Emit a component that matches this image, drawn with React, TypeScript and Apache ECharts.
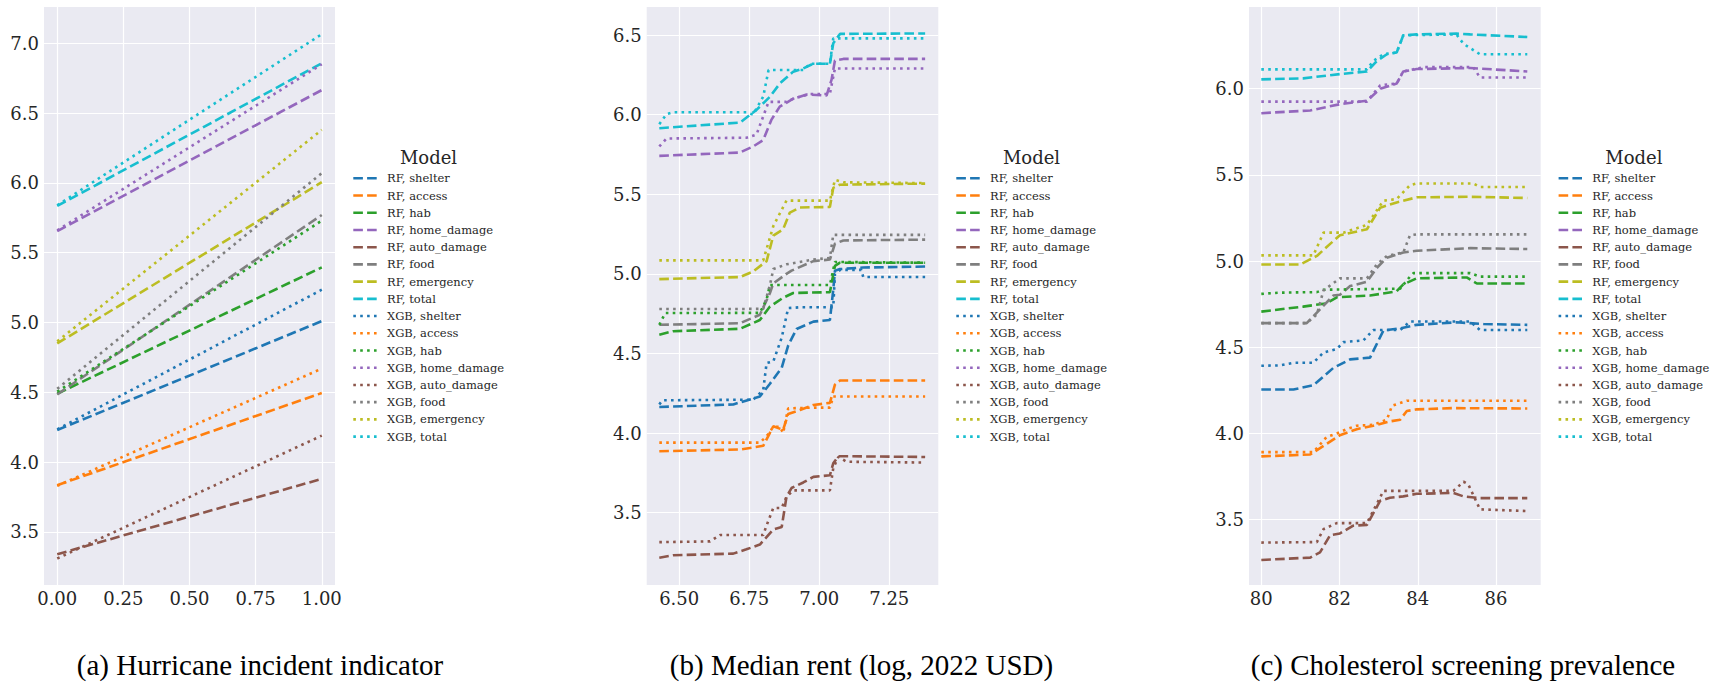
import React, { useEffect, useRef } from 'react';
import * as echarts from 'echarts';

// ---------- labels ----------
const groups = ['shelter', 'access', 'hab', 'home_damage', 'auto_damage', 'food', 'emergency', 'total'];
const models = ['RF', 'XGB'];
const groupColors = ['#1f77b4', '#ff7f0e', '#2ca02c', '#9467bd', '#8c564b', '#7f7f7f', '#bcbd22', '#17becf'];
const panelTitles = ['(a) Hurricane incident indicator', '(b) Median rent (log, 2022 USD)', '(c) Cholesterol screening prevalence'];
const legendTitle = 'Model';

// ---------- tick labels ----------
const hurricaneXTicks = [0, 0.25, 0.5, 0.75, 1.0];
const hurricaneYTicks = [3.5, 4.0, 4.5, 5.0, 5.5, 6.0, 6.5, 7.0];
const rentXTicks = [6.5, 6.75, 7.0, 7.25];
const rentYTicks = [3.5, 4.0, 4.5, 5.0, 5.5, 6.0, 6.5];
const cholXTicks = [80, 82, 84, 86];
const cholYTicks = [3.5, 4.0, 4.5, 5.0, 5.5, 6.0];

// ---------- (a) Hurricane incident indicator ----------
const hurricaneX = [0, 1];
const hurRfShelter = [4.23, 5.01];
const hurRfAccess = [3.835, 4.495];
const hurRfHab = [4.49, 5.395];
const hurRfHome = [5.655, 6.665];
const hurRfAuto = [3.34, 3.88];
const hurRfFood = [4.485, 5.77];
const hurRfEmergency = [4.85, 6.005];
const hurRfTotal = [5.835, 6.857];
const hurXgbShelter = [4.235, 5.235];
const hurXgbAccess = [3.83, 4.67];
const hurXgbHab = [4.505, 5.73];
const hurXgbHome = [5.66, 6.85];
const hurXgbAuto = [3.31, 4.19];
const hurXgbFood = [4.525, 6.07];
const hurXgbEmergency = [4.865, 6.38];
const hurXgbTotal = [5.84, 7.065];

// ---------- (b) Median rent (log) : [x, y] ----------
const rentRfShelter = [[6.429, 4.164], [6.693, 4.18], [6.788, 4.23], [6.824, 4.31], [6.866, 4.41], [6.889, 4.55], [6.919, 4.654], [6.979, 4.7], [7.038, 4.71], [7.05, 4.9], [7.056, 5.02], [7.074, 5.03], [7.157, 5.04], [7.378, 5.046]];
const rentRfAccess = [[6.429, 3.886], [6.717, 3.897], [6.8, 3.92], [6.836, 4.043], [6.871, 4.02], [6.889, 4.12], [6.931, 4.145], [6.979, 4.176], [7.038, 4.19], [7.056, 4.304], [7.074, 4.33], [7.378, 4.33]];
const rentRfHab = [[6.429, 4.618], [6.479, 4.64], [6.717, 4.655], [6.788, 4.71], [6.824, 4.795], [6.871, 4.85], [6.907, 4.88], [7.038, 4.885], [7.056, 5.05], [7.074, 5.07], [7.378, 5.07]];
const rentRfHome = [[6.429, 5.741], [6.717, 5.762], [6.764, 5.8], [6.8, 5.84], [6.829, 5.967], [6.859, 6.05], [6.907, 6.1], [6.955, 6.126], [7.026, 6.12], [7.044, 6.22], [7.056, 6.34], [7.086, 6.35], [7.378, 6.35]];
const rentRfAuto = [[6.429, 3.217], [6.479, 3.233], [6.693, 3.243], [6.74, 3.27], [6.788, 3.3], [6.836, 3.395], [6.866, 3.41], [6.883, 3.6], [6.901, 3.655], [6.943, 3.69], [6.979, 3.725], [7.038, 3.735], [7.05, 3.81], [7.068, 3.855], [7.378, 3.85]];
const rentRfFood = [[6.429, 4.68], [6.717, 4.69], [6.788, 4.743], [6.824, 4.88], [6.836, 4.94], [6.883, 5.0], [6.901, 5.02], [6.979, 5.08], [7.038, 5.09], [7.056, 5.19], [7.086, 5.21], [7.378, 5.215]];
const rentRfEmergency = [[6.429, 4.967], [6.717, 4.98], [6.764, 5.015], [6.812, 5.08], [6.836, 5.24], [6.871, 5.28], [6.895, 5.385], [6.931, 5.417], [7.038, 5.42], [7.05, 5.54], [7.074, 5.56], [7.378, 5.567]];
const rentRfTotal = [[6.429, 5.915], [6.717, 5.95], [6.776, 6.03], [6.824, 6.113], [6.86, 6.197], [6.907, 6.27], [6.943, 6.29], [6.979, 6.32], [7.038, 6.32], [7.05, 6.448], [7.074, 6.507], [7.378, 6.51]];
const rentXgbShelter = [[6.429, 4.18], [6.44, 4.206], [6.764, 4.21], [6.8, 4.27], [6.812, 4.44], [6.836, 4.45], [6.866, 4.6], [6.889, 4.785], [6.93, 4.79], [7.05, 4.79], [7.056, 5.0], [7.074, 5.025], [7.15, 5.025], [7.157, 4.98], [7.378, 4.98]];
const rentXgbAccess = [[6.429, 3.94], [6.788, 3.94], [6.812, 3.98], [6.836, 4.04], [6.86, 4.04], [6.871, 4.0], [6.889, 4.155], [6.979, 4.16], [7.038, 4.16], [7.05, 4.23], [7.378, 4.23]];
const rentXgbHab = [[6.429, 4.68], [6.45, 4.754], [6.788, 4.755], [6.812, 4.84], [6.824, 4.93], [7.038, 4.93], [7.056, 5.075], [7.378, 5.07]];
const rentXgbHome = [[6.429, 5.8], [6.455, 5.85], [6.74, 5.855], [6.776, 5.875], [6.819, 6.08], [6.883, 6.08], [6.907, 6.1], [6.967, 6.13], [7.038, 6.13], [7.056, 6.29], [7.378, 6.29]];
const rentXgbAuto = [[6.429, 3.315], [6.61, 3.32], [6.646, 3.36], [6.8, 3.36], [6.812, 3.42], [6.836, 3.53], [6.866, 3.53], [6.883, 3.6], [6.907, 3.64], [7.038, 3.64], [7.05, 3.78], [7.068, 3.85], [7.098, 3.82], [7.378, 3.815]];
const rentXgbFood = [[6.429, 4.779], [6.8, 4.78], [6.824, 4.93], [6.836, 5.03], [6.883, 5.06], [6.979, 5.09], [7.038, 5.1], [7.05, 5.245], [7.378, 5.245]];
const rentXgbEmergency = [[6.429, 5.085], [6.8, 5.085], [6.836, 5.3], [6.883, 5.46], [7.038, 5.46], [7.056, 5.59], [7.086, 5.575], [7.378, 5.57]];
const rentXgbTotal = [[6.429, 5.94], [6.455, 6.003], [6.48, 6.015], [6.74, 6.015], [6.764, 6.0], [6.8, 6.113], [6.819, 6.28], [6.943, 6.28], [6.967, 6.32], [7.038, 6.32], [7.05, 6.479], [7.378, 6.479]];

// ---------- (c) Cholesterol screening prevalence : [x, y] ----------
const cholRfShelter = [[80, 4.255], [80.82, 4.255], [81.33, 4.28], [81.84, 4.38], [82.27, 4.43], [82.78, 4.44], [83.12, 4.597], [83.55, 4.61], [83.97, 4.63], [84.99, 4.645], [85.68, 4.635], [86.8, 4.63]];
const cholRfAccess = [[80, 3.867], [81.25, 3.878], [81.67, 3.94], [82.01, 3.99], [82.44, 4.025], [82.86, 4.045], [83.29, 4.07], [83.55, 4.08], [83.72, 4.13], [83.97, 4.14], [84.9, 4.147], [86.8, 4.145]];
const cholRfHab = [[80, 4.707], [81.07, 4.736], [81.67, 4.755], [81.93, 4.79], [82.78, 4.8], [83.46, 4.825], [83.63, 4.865], [83.97, 4.9], [85.25, 4.905], [85.51, 4.87], [86.8, 4.87]];
const cholRfHome = [[80, 5.858], [81.25, 5.874], [82.01, 5.91], [82.7, 5.93], [83.04, 6.0], [83.46, 6.03], [83.63, 6.1], [83.97, 6.114], [85.34, 6.12], [86.8, 6.1]];
const cholRfAuto = [[80, 3.266], [81.25, 3.28], [81.5, 3.31], [81.76, 3.41], [82.01, 3.42], [82.35, 3.465], [82.7, 3.47], [83.04, 3.61], [83.29, 3.627], [83.63, 3.635], [83.97, 3.65], [84.91, 3.655], [85.17, 3.635], [85.59, 3.625], [86.8, 3.625]];
const cholRfFood = [[80, 4.64], [81.16, 4.64], [81.5, 4.72], [81.84, 4.8], [82.01, 4.805], [82.27, 4.855], [82.7, 4.88], [82.95, 4.96], [83.21, 5.02], [83.63, 5.05], [83.97, 5.06], [85.34, 5.075], [86.8, 5.07]];
const cholRfEmergency = [[80, 4.98], [80.99, 4.98], [81.42, 5.03], [81.76, 5.1], [82.01, 5.15], [82.7, 5.185], [83.04, 5.31], [83.46, 5.34], [83.97, 5.37], [85.34, 5.373], [86.8, 5.366]];
const cholRfTotal = [[80, 6.054], [81.07, 6.06], [82.01, 6.085], [82.7, 6.1], [82.95, 6.16], [83.21, 6.2], [83.46, 6.21], [83.63, 6.31], [83.97, 6.315], [84.99, 6.32], [85.34, 6.315], [86.8, 6.3]];
const cholXgbShelter = [[80, 4.393], [80.48, 4.395], [80.82, 4.41], [81.33, 4.41], [81.59, 4.47], [81.93, 4.49], [82.1, 4.53], [82.61, 4.54], [82.86, 4.6], [83.55, 4.6], [83.8, 4.65], [85.34, 4.65], [85.59, 4.6], [86.8, 4.6]];
const cholXgbAccess = [[80, 3.892], [81.33, 3.892], [81.67, 3.98], [81.93, 4.0], [82.18, 4.025], [82.44, 4.045], [82.86, 4.05], [83.21, 4.08], [83.34, 4.16], [83.72, 4.19], [86.8, 4.19]];
const cholXgbHab = [[80, 4.81], [80.48, 4.817], [81.42, 4.82], [81.59, 4.834], [83.55, 4.84], [83.8, 4.91], [83.89, 4.93], [85.34, 4.93], [85.59, 4.91], [86.8, 4.91]];
const cholXgbHome = [[80, 5.925], [82.7, 5.925], [83.04, 6.02], [83.46, 6.03], [83.63, 6.1], [84.14, 6.125], [85.42, 6.125], [85.59, 6.065], [86.8, 6.065]];
const cholXgbAuto = [[80, 3.367], [81.42, 3.37], [81.59, 3.445], [81.93, 3.48], [82.7, 3.48], [83.04, 3.63], [83.12, 3.667], [84.91, 3.667], [85.17, 3.72], [85.29, 3.705], [85.59, 3.56], [86.8, 3.55]];
const cholXgbFood = [[80, 4.64], [81.16, 4.64], [81.42, 4.69], [81.59, 4.83], [82.01, 4.9], [82.7, 4.9], [82.95, 4.98], [83.21, 5.03], [83.63, 5.05], [83.8, 5.15], [83.97, 5.155], [86.8, 5.155]];
const cholXgbEmergency = [[80, 5.033], [81.33, 5.033], [81.59, 5.165], [82.1, 5.165], [82.7, 5.21], [83.12, 5.35], [83.46, 5.36], [83.8, 5.44], [83.97, 5.45], [85.42, 5.45], [85.59, 5.43], [86.8, 5.43]];
const cholXgbTotal = [[80, 6.112], [82.7, 6.112], [82.86, 6.16], [83.12, 6.2], [83.46, 6.21], [83.63, 6.31], [84.99, 6.315], [85.17, 6.26], [85.59, 6.2], [86.8, 6.2]];

// ---------- assemble ----------
const hurricaneRf = [hurRfShelter, hurRfAccess, hurRfHab, hurRfHome, hurRfAuto, hurRfFood, hurRfEmergency, hurRfTotal];
const hurricaneXgb = [hurXgbShelter, hurXgbAccess, hurXgbHab, hurXgbHome, hurXgbAuto, hurXgbFood, hurXgbEmergency, hurXgbTotal];
const rentRf = [rentRfShelter, rentRfAccess, rentRfHab, rentRfHome, rentRfAuto, rentRfFood, rentRfEmergency, rentRfTotal];
const rentXgb = [rentXgbShelter, rentXgbAccess, rentXgbHab, rentXgbHome, rentXgbAuto, rentXgbFood, rentXgbEmergency, rentXgbTotal];
const cholRf = [cholRfShelter, cholRfAccess, cholRfHab, cholRfHome, cholRfAuto, cholRfFood, cholRfEmergency, cholRfTotal];
const cholXgb = [cholXgbShelter, cholXgbAccess, cholXgbHab, cholXgbHome, cholXgbAuto, cholXgbFood, cholXgbEmergency, cholXgbTotal];

const panelData = [
  [hurricaneRf.map((ys) => hurricaneX.map((x, i) => [x, ys[i]])), hurricaneXgb.map((ys) => hurricaneX.map((x, i) => [x, ys[i]]))],
  [rentRf, rentXgb],
  [cholRf, cholXgb],
];

const SERIF = 'DejaVu Serif';
const TITLE_FONT = 'Liberation Serif';
const TEXT = '#262626';
const LW = 2.6;
const DASH = [9.6, 4.2];
const DOT = [2.6, 4.3];

const gridLefts = [44, 646.7, 1249];
const gridWidths = [291, 291.6, 291.7];
const xRanges = [[-0.05, 1.05], [6.384, 7.425], [79.685, 87.143]];
const yRanges = [[3.12, 7.26], [3.046, 6.676], [3.121, 6.474]];
const xTicks = [hurricaneXTicks, rentXTicks, cholXTicks];
const yTicks = [hurricaneYTicks, rentYTicks, cholYTicks];
const xFormat = [(v: number) => v.toFixed(2), (v: number) => v.toFixed(2), (v: number) => v.toFixed(0)];
const legendLefts = [352, 955, 1557.3];
const titleCenters = [260, 861.5, 1463];

const legendNames: string[] = [];
models.forEach((m) => groups.forEach((g) => legendNames.push(`${m}, ${g}`)));

function buildOption() {
  const grid = gridLefts.map((left, i) => ({
    left, top: 7, width: gridWidths[i], height: 578,
    show: true, backgroundColor: '#EAEAF2', borderWidth: 0, containLabel: false,
  }));
  const xAxis = xRanges.map((r, i) => ({
    type: 'value', gridIndex: i, min: r[0], max: r[1],
    axisLine: { show: false },
    axisTick: { show: false, customValues: xTicks[i] },
    splitLine: { show: true, lineStyle: { color: '#ffffff', width: 1.2 } },
    axisLabel: { customValues: xTicks[i], formatter: xFormat[i], fontFamily: SERIF, fontSize: 18, color: TEXT, margin: 4 },
  }));
  const yAxis = yRanges.map((r, i) => ({
    type: 'value', gridIndex: i, min: r[0], max: r[1],
    axisLine: { show: false },
    axisTick: { show: false, customValues: yTicks[i] },
    splitLine: { show: true, lineStyle: { color: '#ffffff', width: 1.2 } },
    axisLabel: { customValues: yTicks[i], formatter: (v: number) => v.toFixed(1), fontFamily: SERIF, fontSize: 18, color: TEXT, margin: 5 },
  }));
  const series: any[] = [];
  panelData.forEach((byModel, p) => {
    byModel.forEach((lines, m) => {
      lines.forEach((pts, g) => {
        series.push({
          type: 'line', name: `${models[m]}, ${groups[g]}`,
          xAxisIndex: p, yAxisIndex: p, data: pts,
          symbol: 'none', showSymbol: false, silent: true,
          lineStyle: { color: groupColors[g], width: LW, type: m === 0 ? DASH : DOT, cap: 'butt' },
          itemStyle: { color: groupColors[g] },
        });
      });
    });
  });
  const legend = legendLefts.map((left) => ({
    orient: 'vertical', left, top: 172.3, padding: 0,
    itemWidth: 24, itemHeight: 12, itemGap: 5.22,
    selectedMode: false, data: legendNames,
    lineStyle: { width: LW },
    itemStyle: { opacity: 0, borderWidth: 0 },
    textStyle: { fontFamily: SERIF, fontSize: 11.5, color: TEXT, lineHeight: 12, padding: [0, 0, 0, 4.7] },
  }));
  const graphic: any[] = [];
  panelTitles.forEach((t, i) => {
    graphic.push({ type: 'text', x: titleCenters[i], y: 665, silent: true,
      style: { text: t, fontFamily: TITLE_FONT, fontSize: 29, fill: '#000', align: 'center', verticalAlign: 'middle' } });
  });
  legendLefts.forEach((l) => {
    graphic.push({ type: 'text', x: l + 76.5, y: 157.3, silent: true,
      style: { text: legendTitle, fontFamily: SERIF, fontSize: 18, fill: TEXT, align: 'center', verticalAlign: 'middle' } });
  });
  return { animation: false, backgroundColor: '#ffffff', grid, xAxis, yAxis, series, legend, graphic };
}

export default function App() {
  const ref = useRef<HTMLDivElement>(null);
  useEffect(() => {
    document.body.style.margin = '0';
    const chart = echarts.init(ref.current as HTMLDivElement, null, { renderer: 'svg' });
    chart.setOption(buildOption() as any);
    return () => chart.dispose();
  }, []);
  return <div ref={ref} style={{ width: 1726, height: 686 }} />;
}
